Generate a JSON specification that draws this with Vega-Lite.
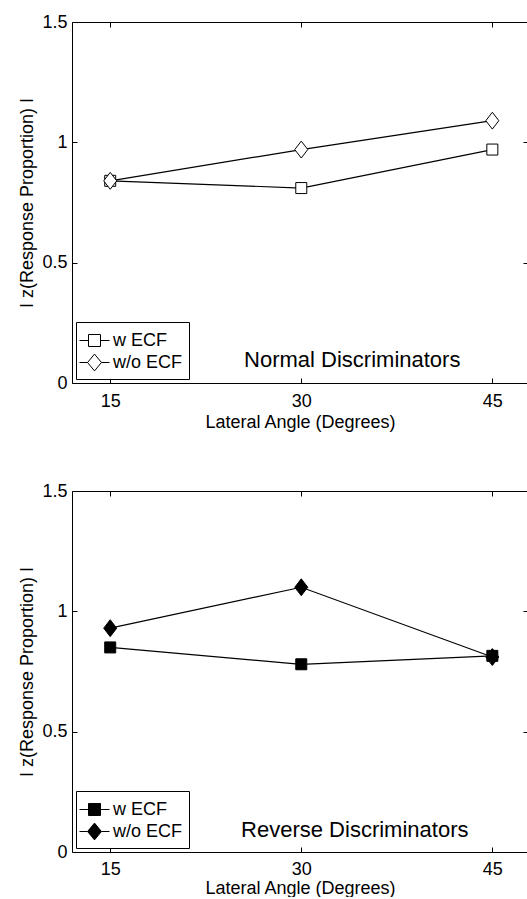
{
  "$schema": "https://vega.github.io/schema/vega-lite/v6.json",
  "background": "white",
  "padding": {"left": 18, "top": 13, "right": 0, "bottom": 0},
  "spacing": 51,
  "datasets": {
    "obs": [
      {"panel": "Normal", "cond": "w ECF", "angle": 15, "value": 0.84},
      {"panel": "Normal", "cond": "w ECF", "angle": 30, "value": 0.81},
      {"panel": "Normal", "cond": "w ECF", "angle": 45, "value": 0.97},
      {"panel": "Normal", "cond": "w/o ECF", "angle": 15, "value": 0.84},
      {"panel": "Normal", "cond": "w/o ECF", "angle": 30, "value": 0.97},
      {"panel": "Normal", "cond": "w/o ECF", "angle": 45, "value": 1.09},
      {"panel": "Reverse", "cond": "w ECF", "angle": 15, "value": 0.85},
      {"panel": "Reverse", "cond": "w ECF", "angle": 30, "value": 0.78},
      {"panel": "Reverse", "cond": "w ECF", "angle": 45, "value": 0.815},
      {"panel": "Reverse", "cond": "w/o ECF", "angle": 15, "value": 0.93},
      {"panel": "Reverse", "cond": "w/o ECF", "angle": 30, "value": 1.10},
      {"panel": "Reverse", "cond": "w/o ECF", "angle": 45, "value": 0.81}
    ],
    "notes": [
      {"panel": "Normal", "angle": 34.0, "value": 0.095, "label": "Normal Discriminators"},
      {"panel": "Reverse", "angle": 34.2, "value": 0.091, "label": "Reverse Discriminators"}
    ]
  },
  "config": {
    "font": "Liberation Sans",
    "view": {"stroke": null},
    "axis": {
      "labelFont": "Liberation Sans", "titleFont": "Liberation Sans",
      "labelFontSize": 18, "titleFontSize": 18, "titleFontWeight": "normal",
      "labelColor": "black", "titleColor": "black",
      "domainColor": "black", "tickColor": "black", "tickSize": -5, "grid": false
    },
    "legend": {
      "orient": "bottom-left", "offset": 4, "title": null,
      "strokeColor": "black", "fillColor": "white", "padding": 6,
      "symbolSize": 576, "symbolStrokeWidth": 1, "labelOffset": 6, "rowPadding": 0,
      "labelFont": "Liberation Sans", "labelFontSize": 18, "labelColor": "black"
    }
  },
  "resolve": {"scale": {"shape": "independent"}, "legend": {"shape": "independent"}},
  "vconcat": [
    {
      "width": 456, "height": 361,
      "layer": [
        {
          "data": {"name": "obs"},
          "transform": [{"filter": "datum.panel === 'Normal'"}],
          "mark": {"type": "line", "color": "black", "strokeWidth": 1.2},
          "encoding": {
            "x": {"field": "angle", "type": "quantitative", "scale": {"domain": [12, 47.8], "nice": false},
                  "axis": {"values": [15, 30, 45], "title": "Lateral Angle (Degrees)", "labelPadding": 14, "titlePadding": 3}},
            "y": {"field": "value", "type": "quantitative", "scale": {"domain": [0, 1.5], "nice": false},
                  "axis": {"values": [0, 0.5, 1, 1.5], "format": "~g", "title": "I z(Response Proportion) I", "labelPadding": 10, "titlePadding": 5}},
            "detail": {"field": "cond"}
          }
        },
        {
          "data": {"name": "obs"},
          "transform": [{"filter": "datum.panel === 'Normal' && datum.cond === 'w ECF'"}],
          "mark": {"type": "point", "shape": "square", "filled": true, "fill": "white", "stroke": "black", "strokeWidth": 1, "opacity": 1, "size": 121},
          "encoding": {
            "x": {"field": "angle", "type": "quantitative", "axis": {"orient": "top", "values": [15, 30, 45], "labels": false, "title": null}},
            "y": {"field": "value", "type": "quantitative", "axis": {"orient": "right", "values": [0, 0.5, 1, 1.5], "labels": false, "title": null, "domain": false}}
          }
        },
        {
          "data": {"name": "obs"},
          "transform": [{"filter": "datum.panel === 'Normal' && datum.cond === 'w/o ECF'"}],
          "mark": {"type": "point", "shape": "M0,-1.3L1,0L0,1.3L-1,0Z", "filled": true, "fill": "white", "stroke": "black", "strokeWidth": 1, "opacity": 1, "size": 169},
          "encoding": {
            "x": {"field": "angle", "type": "quantitative", "axis": null},
            "y": {"field": "value", "type": "quantitative", "axis": null}
          }
        },
        {
          "data": {"name": "obs"},
          "transform": [{"filter": "false"}],
          "mark": {"type": "point", "filled": true, "fill": "white", "stroke": "black", "strokeWidth": 1, "opacity": 1},
          "encoding": {
            "x": {"field": "angle", "type": "quantitative", "axis": null},
            "y": {"field": "value", "type": "quantitative", "axis": null},
            "shape": {"field": "cond", "type": "nominal",
              "scale": {"domain": ["w ECF", "w/o ECF"], "range": ["M-1.25,0H-0.5M0.5,0H1.25M-0.5,-0.5H0.5V0.5H-0.5Z", "M-1.25,0H-0.58M0.58,0H1.25M0,-0.7L0.58,0L0,0.7L-0.58,0Z"]},
              "legend": {"orient": "bottom-left", "offset": 4, "title": null}
            }
          }
        },
        {
          "data": {"name": "notes"},
          "transform": [{"filter": "datum.panel === 'Normal'"}],
          "mark": {"type": "text", "font": "Liberation Sans", "fontSize": 22, "color": "black", "baseline": "middle", "align": "center"},
          "encoding": {
            "x": {"field": "angle", "type": "quantitative", "axis": null},
            "y": {"field": "value", "type": "quantitative", "axis": null},
            "text": {"field": "label"}
          }
        }
      ],
      "resolve": {"axis": {"x": "independent", "y": "independent"}}
    },
    {
      "width": 456, "height": 361,
      "layer": [
        {
          "data": {"name": "obs"},
          "transform": [{"filter": "datum.panel === 'Reverse'"}],
          "mark": {"type": "line", "color": "black", "strokeWidth": 1.2},
          "encoding": {
            "x": {"field": "angle", "type": "quantitative", "scale": {"domain": [12, 47.8], "nice": false},
                  "axis": {"values": [15, 30, 45], "title": "Lateral Angle (Degrees)", "labelPadding": 13, "titlePadding": 1}},
            "y": {"field": "value", "type": "quantitative", "scale": {"domain": [0, 1.5], "nice": false},
                  "axis": {"values": [0, 0.5, 1, 1.5], "format": "~g", "title": "I z(Response Proportion) I", "labelPadding": 10, "titlePadding": 5}},
            "detail": {"field": "cond"}
          }
        },
        {
          "data": {"name": "obs"},
          "transform": [{"filter": "datum.panel === 'Reverse' && datum.cond === 'w ECF'"}],
          "mark": {"type": "point", "shape": "square", "filled": true, "fill": "black", "stroke": "black", "strokeWidth": 1, "opacity": 1, "size": 121},
          "encoding": {
            "x": {"field": "angle", "type": "quantitative", "axis": {"orient": "top", "values": [15, 30, 45], "labels": false, "title": null}},
            "y": {"field": "value", "type": "quantitative", "axis": {"orient": "right", "values": [0, 0.5, 1, 1.5], "labels": false, "title": null, "domain": false}}
          }
        },
        {
          "data": {"name": "obs"},
          "transform": [{"filter": "datum.panel === 'Reverse' && datum.cond === 'w/o ECF'"}],
          "mark": {"type": "point", "shape": "M0,-1.3L1,0L0,1.3L-1,0Z", "filled": true, "fill": "black", "stroke": "black", "strokeWidth": 1, "opacity": 1, "size": 169},
          "encoding": {
            "x": {"field": "angle", "type": "quantitative", "axis": null},
            "y": {"field": "value", "type": "quantitative", "axis": null}
          }
        },
        {
          "data": {"name": "obs"},
          "transform": [{"filter": "false"}],
          "mark": {"type": "point", "filled": true, "fill": "black", "stroke": "black", "strokeWidth": 1, "opacity": 1},
          "encoding": {
            "x": {"field": "angle", "type": "quantitative", "axis": null},
            "y": {"field": "value", "type": "quantitative", "axis": null},
            "shape": {"field": "cond", "type": "nominal",
              "scale": {"domain": ["w ECF", "w/o ECF"], "range": ["M-1.25,0H-0.5M0.5,0H1.25M-0.5,-0.5H0.5V0.5H-0.5Z", "M-1.25,0H-0.58M0.58,0H1.25M0,-0.7L0.58,0L0,0.7L-0.58,0Z"]},
              "legend": {"orient": "bottom-left", "offset": 4, "title": null}
            }
          }
        },
        {
          "data": {"name": "notes"},
          "transform": [{"filter": "datum.panel === 'Reverse'"}],
          "mark": {"type": "text", "font": "Liberation Sans", "fontSize": 22, "color": "black", "baseline": "middle", "align": "center"},
          "encoding": {
            "x": {"field": "angle", "type": "quantitative", "axis": null},
            "y": {"field": "value", "type": "quantitative", "axis": null},
            "text": {"field": "label"}
          }
        }
      ],
      "resolve": {"axis": {"x": "independent", "y": "independent"}}
    }
  ]
}
